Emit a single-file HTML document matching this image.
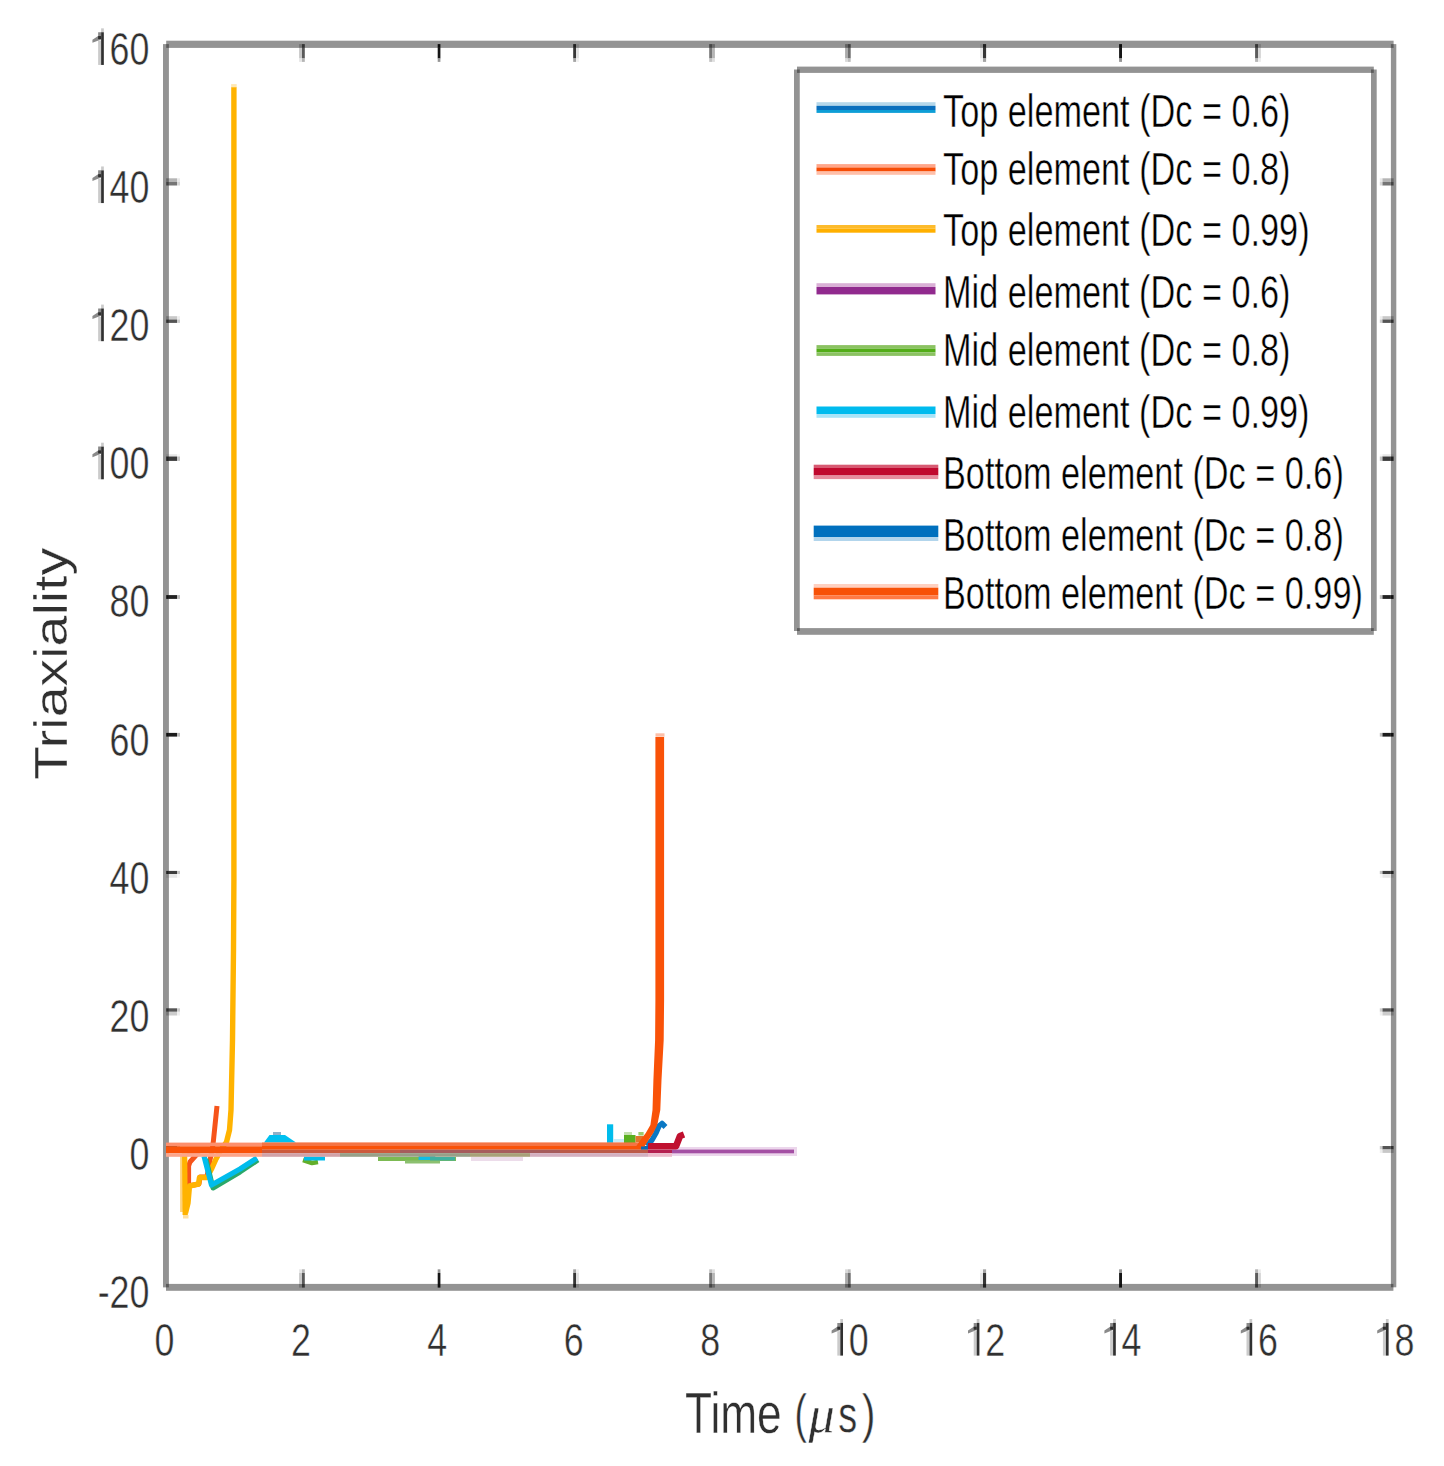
<!DOCTYPE html>
<html><head><meta charset="utf-8"><style>
html,body{margin:0;padding:0;background:#fff;}
svg{display:block;}
text{font-family:"Liberation Sans",sans-serif;fill:#303030;stroke:#fff;stroke-width:0.45px;}
.t{font-size:47px;}
.xl{font-size:57.6px;}
.yl{font-size:55.5px;}
.lg{font-size:46px;fill:#000;}
</style></head><body>
<svg width="1444" height="1466" viewBox="0 0 1444 1466">
<rect width="1444" height="1466" fill="#fff"/>
<rect x="166.2" y="40.7" width="1227.4" height="7.2" fill="#939393"/>
<rect x="166" y="1283.9" width="1227.4" height="6.9" fill="#939393"/>
<rect x="163" y="44.1" width="5.9" height="1243.3" fill="#939393"/>
<rect x="1390.9" y="44.1" width="5.4" height="1243.2" fill="#939393"/>
<rect x="166.2" y="44.1" width="2.7" height="3.8" fill="#5c5c5c"/>
<rect x="1390.9" y="44.1" width="2.7" height="3.8" fill="#5c5c5c"/>
<rect x="166" y="1283.9" width="2.9" height="3.5" fill="#5c5c5c"/>
<rect x="1390.9" y="1283.9" width="2.5" height="3.4" fill="#5c5c5c"/>
<rect x="166.2" y="178.3" width="2.7" height="3.7" fill="#686868"/>
<rect x="168.9" y="178.3" width="8.1" height="3.7" fill="#b5b5b5"/>
<rect x="177" y="178.3" width="3" height="3.7" fill="#e9e9e9"/>
<rect x="1390.9" y="178.3" width="2.7" height="3.7" fill="#686868"/>
<rect x="1382.3" y="178.3" width="8.6" height="3.7" fill="#b5b5b5"/>
<rect x="1379.8" y="178.3" width="2.5" height="3.7" fill="#e9e9e9"/>
<rect x="166.2" y="182" width="2.7" height="3.5" fill="#434343"/>
<rect x="168.9" y="182" width="8.1" height="3.5" fill="#757575"/>
<rect x="177" y="182" width="3" height="3.5" fill="#d6d6d6"/>
<rect x="1390.9" y="182" width="2.7" height="3.5" fill="#434343"/>
<rect x="1382.3" y="182" width="8.6" height="3.5" fill="#757575"/>
<rect x="1379.8" y="182" width="2.5" height="3.5" fill="#d6d6d6"/>
<rect x="166.2" y="316.2" width="2.7" height="3.3" fill="#737373"/>
<rect x="168.9" y="316.2" width="8.1" height="3.3" fill="#c8c8c8"/>
<rect x="177" y="316.2" width="3" height="3.3" fill="#eeeeee"/>
<rect x="1390.9" y="316.2" width="2.7" height="3.3" fill="#737373"/>
<rect x="1382.3" y="316.2" width="8.6" height="3.3" fill="#c8c8c8"/>
<rect x="1379.8" y="316.2" width="2.5" height="3.3" fill="#eeeeee"/>
<rect x="166.2" y="319.5" width="2.7" height="3.4" fill="#303030"/>
<rect x="168.9" y="319.5" width="8.1" height="3.4" fill="#545454"/>
<rect x="177" y="319.5" width="3" height="3.4" fill="#cccccc"/>
<rect x="1390.9" y="319.5" width="2.7" height="3.4" fill="#303030"/>
<rect x="1382.3" y="319.5" width="8.6" height="3.4" fill="#545454"/>
<rect x="1379.8" y="319.5" width="2.5" height="3.4" fill="#cccccc"/>
<rect x="166.2" y="454.2" width="2.7" height="2.3" fill="#858585"/>
<rect x="168.9" y="454.2" width="8.1" height="2.3" fill="#e6e6e6"/>
<rect x="177" y="454.2" width="3" height="2.3" fill="#f8f8f8"/>
<rect x="1390.9" y="454.2" width="2.7" height="2.3" fill="#858585"/>
<rect x="1382.3" y="454.2" width="8.6" height="2.3" fill="#e6e6e6"/>
<rect x="1379.8" y="454.2" width="2.5" height="2.3" fill="#f8f8f8"/>
<rect x="166.2" y="456.5" width="2.7" height="4.4" fill="#212121"/>
<rect x="168.9" y="456.5" width="8.1" height="4.4" fill="#3a3a3a"/>
<rect x="177" y="456.5" width="3" height="4.4" fill="#c4c4c4"/>
<rect x="1390.9" y="456.5" width="2.7" height="4.4" fill="#212121"/>
<rect x="1382.3" y="456.5" width="8.6" height="4.4" fill="#3a3a3a"/>
<rect x="1379.8" y="456.5" width="2.5" height="4.4" fill="#c4c4c4"/>
<rect x="166.2" y="595.1" width="2.7" height="3.8" fill="#141414"/>
<rect x="168.9" y="595.1" width="8.1" height="3.8" fill="#222222"/>
<rect x="177" y="595.1" width="3" height="3.8" fill="#bdbdbd"/>
<rect x="1390.9" y="595.1" width="2.7" height="3.8" fill="#141414"/>
<rect x="1382.3" y="595.1" width="8.6" height="3.8" fill="#222222"/>
<rect x="1379.8" y="595.1" width="2.5" height="3.8" fill="#bdbdbd"/>
<rect x="166.2" y="732.9" width="2.7" height="3.7" fill="#101010"/>
<rect x="168.9" y="732.9" width="8.1" height="3.7" fill="#1c1c1c"/>
<rect x="177" y="732.9" width="3" height="3.7" fill="#bbbbbb"/>
<rect x="1390.9" y="732.9" width="2.7" height="3.7" fill="#101010"/>
<rect x="1382.3" y="732.9" width="8.6" height="3.7" fill="#1c1c1c"/>
<rect x="1379.8" y="732.9" width="2.5" height="3.7" fill="#bbbbbb"/>
<rect x="166.2" y="870.9" width="2.7" height="3.1" fill="#232323"/>
<rect x="168.9" y="870.9" width="8.1" height="3.1" fill="#3c3c3c"/>
<rect x="177" y="870.9" width="3" height="3.1" fill="#c4c4c4"/>
<rect x="1390.9" y="870.9" width="2.7" height="3.1" fill="#232323"/>
<rect x="1382.3" y="870.9" width="8.6" height="3.1" fill="#3c3c3c"/>
<rect x="1379.8" y="870.9" width="2.5" height="3.1" fill="#c4c4c4"/>
<rect x="166.2" y="874" width="2.7" height="3.8" fill="#858585"/>
<rect x="168.9" y="874" width="8.1" height="3.8" fill="#e6e6e6"/>
<rect x="177" y="874" width="3" height="3.8" fill="#f8f8f8"/>
<rect x="1390.9" y="874" width="2.7" height="3.8" fill="#858585"/>
<rect x="1382.3" y="874" width="8.6" height="3.8" fill="#e6e6e6"/>
<rect x="1379.8" y="874" width="2.5" height="3.8" fill="#f8f8f8"/>
<rect x="166.2" y="1008.3" width="2.7" height="3.5" fill="#313131"/>
<rect x="168.9" y="1008.3" width="8.1" height="3.5" fill="#555555"/>
<rect x="177" y="1008.3" width="3" height="3.5" fill="#cccccc"/>
<rect x="1390.9" y="1008.3" width="2.7" height="3.5" fill="#313131"/>
<rect x="1382.3" y="1008.3" width="8.6" height="3.5" fill="#555555"/>
<rect x="1379.8" y="1008.3" width="2.5" height="3.5" fill="#cccccc"/>
<rect x="166.2" y="1011.8" width="2.7" height="3.7" fill="#767676"/>
<rect x="168.9" y="1011.8" width="8.1" height="3.7" fill="#cccccc"/>
<rect x="177" y="1011.8" width="3" height="3.7" fill="#f0f0f0"/>
<rect x="1390.9" y="1011.8" width="2.7" height="3.7" fill="#767676"/>
<rect x="1382.3" y="1011.8" width="8.6" height="3.7" fill="#cccccc"/>
<rect x="1379.8" y="1011.8" width="2.5" height="3.7" fill="#f0f0f0"/>
<rect x="166.2" y="1146" width="2.7" height="3.5" fill="#313131"/>
<rect x="168.9" y="1146" width="8.1" height="3.5" fill="#555555"/>
<rect x="177" y="1146" width="3" height="3.5" fill="#cccccc"/>
<rect x="1390.9" y="1146" width="2.7" height="3.5" fill="#313131"/>
<rect x="1382.3" y="1146" width="8.6" height="3.5" fill="#555555"/>
<rect x="1379.8" y="1146" width="2.5" height="3.5" fill="#cccccc"/>
<rect x="166.2" y="1149.5" width="2.7" height="3.4" fill="#737373"/>
<rect x="168.9" y="1149.5" width="8.1" height="3.4" fill="#c8c8c8"/>
<rect x="177" y="1149.5" width="3" height="3.4" fill="#eeeeee"/>
<rect x="1390.9" y="1149.5" width="2.7" height="3.4" fill="#737373"/>
<rect x="1382.3" y="1149.5" width="8.6" height="3.4" fill="#c8c8c8"/>
<rect x="1379.8" y="1149.5" width="2.5" height="3.4" fill="#eeeeee"/>
<rect x="299.1" y="1284" width="2.90" height="3.6" fill="#737373"/>
<rect x="299.1" y="1273" width="2.90" height="11" fill="#c8c8c8"/>
<rect x="299.1" y="1269.3" width="2.90" height="3.7" fill="#e6e6e6"/>
<rect x="299.1" y="44.1" width="2.90" height="3.8" fill="#737373"/>
<rect x="299.1" y="47.9" width="2.90" height="10.6" fill="#c8c8c8"/>
<rect x="299.1" y="58.5" width="2.90" height="3.4" fill="#e6e6e6"/>
<rect x="302" y="1284" width="2.80" height="3.6" fill="#343434"/>
<rect x="302" y="1273" width="2.80" height="11" fill="#5a5a5a"/>
<rect x="302" y="1269.3" width="2.80" height="3.7" fill="#b5b5b5"/>
<rect x="302" y="44.1" width="2.80" height="3.8" fill="#343434"/>
<rect x="302" y="47.9" width="2.80" height="10.6" fill="#5a5a5a"/>
<rect x="302" y="58.5" width="2.80" height="3.4" fill="#b5b5b5"/>
<rect x="437.7" y="1284" width="2.70" height="3.6" fill="#0c0c0c"/>
<rect x="437.7" y="1273" width="2.70" height="11" fill="#151515"/>
<rect x="437.7" y="1269.3" width="2.70" height="3.7" fill="#969696"/>
<rect x="437.7" y="44.1" width="2.70" height="3.8" fill="#0c0c0c"/>
<rect x="437.7" y="47.9" width="2.70" height="10.6" fill="#151515"/>
<rect x="437.7" y="58.5" width="2.70" height="3.4" fill="#969696"/>
<rect x="573.2" y="1284" width="2.85" height="3.6" fill="#1f1f1f"/>
<rect x="573.2" y="1273" width="2.85" height="11" fill="#363636"/>
<rect x="573.2" y="1269.3" width="2.85" height="3.7" fill="#a5a5a5"/>
<rect x="573.2" y="44.1" width="2.85" height="3.8" fill="#1f1f1f"/>
<rect x="573.2" y="47.9" width="2.85" height="10.6" fill="#363636"/>
<rect x="573.2" y="58.5" width="2.85" height="3.4" fill="#a5a5a5"/>
<rect x="576.05" y="1284" width="2.85" height="3.6" fill="#818181"/>
<rect x="576.05" y="1273" width="2.85" height="11" fill="#e0e0e0"/>
<rect x="576.05" y="1269.3" width="2.85" height="3.7" fill="#f1f1f1"/>
<rect x="576.05" y="44.1" width="2.85" height="3.8" fill="#818181"/>
<rect x="576.05" y="47.9" width="2.85" height="10.6" fill="#e0e0e0"/>
<rect x="576.05" y="58.5" width="2.85" height="3.4" fill="#f1f1f1"/>
<rect x="709.2" y="1284" width="2.85" height="3.6" fill="#454545"/>
<rect x="709.2" y="1273" width="2.85" height="11" fill="#777777"/>
<rect x="709.2" y="1269.3" width="2.85" height="3.7" fill="#c2c2c2"/>
<rect x="709.2" y="44.1" width="2.85" height="3.8" fill="#454545"/>
<rect x="709.2" y="47.9" width="2.85" height="10.6" fill="#777777"/>
<rect x="709.2" y="58.5" width="2.85" height="3.4" fill="#c2c2c2"/>
<rect x="712.05" y="1284" width="2.85" height="3.6" fill="#686868"/>
<rect x="712.05" y="1273" width="2.85" height="11" fill="#b5b5b5"/>
<rect x="712.05" y="1269.3" width="2.85" height="3.7" fill="#dedede"/>
<rect x="712.05" y="44.1" width="2.85" height="3.8" fill="#686868"/>
<rect x="712.05" y="47.9" width="2.85" height="10.6" fill="#b5b5b5"/>
<rect x="712.05" y="58.5" width="2.85" height="3.4" fill="#dedede"/>
<rect x="845.1" y="1284" width="2.70" height="3.6" fill="#626262"/>
<rect x="845.1" y="1273" width="2.70" height="11" fill="#aaaaaa"/>
<rect x="845.1" y="1269.3" width="2.70" height="3.7" fill="#d9d9d9"/>
<rect x="845.1" y="44.1" width="2.70" height="3.8" fill="#626262"/>
<rect x="845.1" y="47.9" width="2.70" height="10.6" fill="#aaaaaa"/>
<rect x="845.1" y="58.5" width="2.70" height="3.4" fill="#d9d9d9"/>
<rect x="847.8" y="1284" width="2.90" height="3.6" fill="#3f3f3f"/>
<rect x="847.8" y="1273" width="2.90" height="11" fill="#6e6e6e"/>
<rect x="847.8" y="1269.3" width="2.90" height="3.7" fill="#bebebe"/>
<rect x="847.8" y="44.1" width="2.90" height="3.8" fill="#3f3f3f"/>
<rect x="847.8" y="47.9" width="2.90" height="10.6" fill="#6e6e6e"/>
<rect x="847.8" y="58.5" width="2.90" height="3.4" fill="#bebebe"/>
<rect x="980.1" y="1284" width="2.90" height="3.6" fill="#868686"/>
<rect x="980.1" y="1273" width="2.90" height="11" fill="#e8e8e8"/>
<rect x="980.1" y="1269.3" width="2.90" height="3.7" fill="#f5f5f5"/>
<rect x="980.1" y="44.1" width="2.90" height="3.8" fill="#868686"/>
<rect x="980.1" y="47.9" width="2.90" height="10.6" fill="#e8e8e8"/>
<rect x="980.1" y="58.5" width="2.90" height="3.4" fill="#f5f5f5"/>
<rect x="983" y="1284" width="3.10" height="3.6" fill="#1f1f1f"/>
<rect x="983" y="1273" width="3.10" height="11" fill="#363636"/>
<rect x="983" y="1269.3" width="3.10" height="3.7" fill="#a5a5a5"/>
<rect x="983" y="44.1" width="3.10" height="3.8" fill="#1f1f1f"/>
<rect x="983" y="47.9" width="3.10" height="10.6" fill="#363636"/>
<rect x="983" y="58.5" width="3.10" height="3.4" fill="#a5a5a5"/>
<rect x="1119.1" y="1284" width="2.90" height="3.6" fill="#0c0c0c"/>
<rect x="1119.1" y="1273" width="2.90" height="11" fill="#151515"/>
<rect x="1119.1" y="1269.3" width="2.90" height="3.7" fill="#969696"/>
<rect x="1119.1" y="44.1" width="2.90" height="3.8" fill="#0c0c0c"/>
<rect x="1119.1" y="47.9" width="2.90" height="10.6" fill="#151515"/>
<rect x="1119.1" y="58.5" width="2.90" height="3.4" fill="#969696"/>
<rect x="1255.1" y="1284" width="2.95" height="3.6" fill="#353535"/>
<rect x="1255.1" y="1273" width="2.95" height="11" fill="#5c5c5c"/>
<rect x="1255.1" y="1269.3" width="2.95" height="3.7" fill="#b6b6b6"/>
<rect x="1255.1" y="44.1" width="2.95" height="3.8" fill="#353535"/>
<rect x="1255.1" y="47.9" width="2.95" height="10.6" fill="#5c5c5c"/>
<rect x="1255.1" y="58.5" width="2.95" height="3.4" fill="#b6b6b6"/>
<rect x="1258.05" y="1284" width="2.85" height="3.6" fill="#7b7b7b"/>
<rect x="1258.05" y="1273" width="2.85" height="11" fill="#d5d5d5"/>
<rect x="1258.05" y="1269.3" width="2.85" height="3.7" fill="#ececec"/>
<rect x="1258.05" y="44.1" width="2.85" height="3.8" fill="#7b7b7b"/>
<rect x="1258.05" y="47.9" width="2.85" height="10.6" fill="#d5d5d5"/>
<rect x="1258.05" y="58.5" width="2.85" height="3.4" fill="#ececec"/>
<text class="t" x="0" y="0" transform="translate(97.68 1308.0) scale(0.763 1)">-</text>
<text class="t" x="0" y="0" transform="translate(109.62 1308.0) scale(0.763 1)">2</text>
<text class="t" x="0" y="0" transform="translate(129.56 1308.0) scale(0.763 1)">0</text>
<text class="t" x="0" y="0" transform="translate(129.56 1169.9) scale(0.763 1)">0</text>
<text class="t" x="0" y="0" transform="translate(109.62 1031.8) scale(0.763 1)">2</text>
<text class="t" x="0" y="0" transform="translate(129.56 1031.8) scale(0.763 1)">0</text>
<text class="t" x="0" y="0" transform="translate(109.62 893.7) scale(0.763 1)">4</text>
<text class="t" x="0" y="0" transform="translate(129.56 893.7) scale(0.763 1)">0</text>
<text class="t" x="0" y="0" transform="translate(109.62 755.5) scale(0.763 1)">6</text>
<text class="t" x="0" y="0" transform="translate(129.56 755.5) scale(0.763 1)">0</text>
<text class="t" x="0" y="0" transform="translate(109.62 617.4) scale(0.763 1)">8</text>
<text class="t" x="0" y="0" transform="translate(129.56 617.4) scale(0.763 1)">0</text>
<rect x="98.13" y="454.90" width="3" height="24.4" fill="#cbcbcb"/>
<rect x="101.13" y="442.70" width="2.7" height="3.9" fill="#cacaca"/>
<polygon points="101.13,446.60 101.13,453.80 92.43,457.20 92.43,454.20 98.13,450.40 98.13,446.60" fill="#8a8a8a"/>
<rect x="98.13" y="450.40" width="3" height="3" fill="#2e2e2e"/>
<rect x="101.13" y="446.60" width="2.7" height="32.7" fill="#303030"/>
<text class="t" x="0" y="0" transform="translate(109.62 479.3) scale(0.763 1)">0</text>
<text class="t" x="0" y="0" transform="translate(129.56 479.3) scale(0.763 1)">0</text>
<rect x="98.13" y="316.78" width="3" height="24.4" fill="#cbcbcb"/>
<rect x="101.13" y="304.58" width="2.7" height="3.9" fill="#cacaca"/>
<polygon points="101.13,308.48 101.13,315.68 92.43,319.08 92.43,316.08 98.13,312.28 98.13,308.48" fill="#8a8a8a"/>
<rect x="98.13" y="312.28" width="3" height="3" fill="#2e2e2e"/>
<rect x="101.13" y="308.48" width="2.7" height="32.7" fill="#303030"/>
<text class="t" x="0" y="0" transform="translate(109.62 341.2) scale(0.763 1)">2</text>
<text class="t" x="0" y="0" transform="translate(129.56 341.2) scale(0.763 1)">0</text>
<rect x="98.13" y="178.66" width="3" height="24.4" fill="#cbcbcb"/>
<rect x="101.13" y="166.46" width="2.7" height="3.9" fill="#cacaca"/>
<polygon points="101.13,170.36 101.13,177.56 92.43,180.96 92.43,177.96 98.13,174.16 98.13,170.36" fill="#8a8a8a"/>
<rect x="98.13" y="174.16" width="3" height="3" fill="#2e2e2e"/>
<rect x="101.13" y="170.36" width="2.7" height="32.7" fill="#303030"/>
<text class="t" x="0" y="0" transform="translate(109.62 203.1) scale(0.763 1)">4</text>
<text class="t" x="0" y="0" transform="translate(129.56 203.1) scale(0.763 1)">0</text>
<rect x="98.13" y="40.54" width="3" height="24.4" fill="#cbcbcb"/>
<rect x="101.13" y="28.34" width="2.7" height="3.9" fill="#cacaca"/>
<polygon points="101.13,32.24 101.13,39.44 92.43,42.84 92.43,39.84 98.13,36.04 98.13,32.24" fill="#8a8a8a"/>
<rect x="98.13" y="36.04" width="3" height="3" fill="#2e2e2e"/>
<rect x="101.13" y="32.24" width="2.7" height="32.7" fill="#303030"/>
<text class="t" x="0" y="0" transform="translate(109.62 64.9) scale(0.763 1)">6</text>
<text class="t" x="0" y="0" transform="translate(129.56 64.9) scale(0.763 1)">0</text>
<text class="t" x="0" y="0" transform="translate(154.53 1355.6) scale(0.763 1)">0</text>
<text class="t" x="0" y="0" transform="translate(290.93 1355.6) scale(0.763 1)">2</text>
<text class="t" x="0" y="0" transform="translate(427.33 1355.6) scale(0.763 1)">4</text>
<text class="t" x="0" y="0" transform="translate(563.73 1355.6) scale(0.763 1)">6</text>
<text class="t" x="0" y="0" transform="translate(700.13 1355.6) scale(0.763 1)">8</text>
<rect x="837.31" y="1331.20" width="3" height="24.4" fill="#cbcbcb"/>
<rect x="840.31" y="1319.00" width="2.7" height="3.9" fill="#cacaca"/>
<polygon points="840.31,1322.90 840.31,1330.10 831.61,1333.50 831.61,1330.50 837.31,1326.70 837.31,1322.90" fill="#8a8a8a"/>
<rect x="837.31" y="1326.70" width="3" height="3" fill="#2e2e2e"/>
<rect x="840.31" y="1322.90" width="2.7" height="32.7" fill="#303030"/>
<text class="t" x="0" y="0" transform="translate(848.80 1355.6) scale(0.763 1)">0</text>
<rect x="973.71" y="1331.20" width="3" height="24.4" fill="#cbcbcb"/>
<rect x="976.71" y="1319.00" width="2.7" height="3.9" fill="#cacaca"/>
<polygon points="976.71,1322.90 976.71,1330.10 968.01,1333.50 968.01,1330.50 973.71,1326.70 973.71,1322.90" fill="#8a8a8a"/>
<rect x="973.71" y="1326.70" width="3" height="3" fill="#2e2e2e"/>
<rect x="976.71" y="1322.90" width="2.7" height="32.7" fill="#303030"/>
<text class="t" x="0" y="0" transform="translate(985.20 1355.6) scale(0.763 1)">2</text>
<rect x="1110.11" y="1331.20" width="3" height="24.4" fill="#cbcbcb"/>
<rect x="1113.11" y="1319.00" width="2.7" height="3.9" fill="#cacaca"/>
<polygon points="1113.11,1322.90 1113.11,1330.10 1104.41,1333.50 1104.41,1330.50 1110.11,1326.70 1110.11,1322.90" fill="#8a8a8a"/>
<rect x="1110.11" y="1326.70" width="3" height="3" fill="#2e2e2e"/>
<rect x="1113.11" y="1322.90" width="2.7" height="32.7" fill="#303030"/>
<text class="t" x="0" y="0" transform="translate(1121.60 1355.6) scale(0.763 1)">4</text>
<rect x="1246.51" y="1331.20" width="3" height="24.4" fill="#cbcbcb"/>
<rect x="1249.51" y="1319.00" width="2.7" height="3.9" fill="#cacaca"/>
<polygon points="1249.51,1322.90 1249.51,1330.10 1240.81,1333.50 1240.81,1330.50 1246.51,1326.70 1246.51,1322.90" fill="#8a8a8a"/>
<rect x="1246.51" y="1326.70" width="3" height="3" fill="#2e2e2e"/>
<rect x="1249.51" y="1322.90" width="2.7" height="32.7" fill="#303030"/>
<text class="t" x="0" y="0" transform="translate(1258.00 1355.6) scale(0.763 1)">6</text>
<rect x="1382.91" y="1331.20" width="3" height="24.4" fill="#cbcbcb"/>
<rect x="1385.91" y="1319.00" width="2.7" height="3.9" fill="#cacaca"/>
<polygon points="1385.91,1322.90 1385.91,1330.10 1377.21,1333.50 1377.21,1330.50 1382.91,1326.70 1382.91,1322.90" fill="#8a8a8a"/>
<rect x="1382.91" y="1326.70" width="3" height="3" fill="#2e2e2e"/>
<rect x="1385.91" y="1322.90" width="2.7" height="32.7" fill="#303030"/>
<text class="t" x="0" y="0" transform="translate(1394.40 1355.6) scale(0.763 1)">8</text>
<text x="0" y="0" style="font-size:57.56px;" transform="translate(685.03 1432.50) scale(0.768 1)">Time</text>
<text x="0" y="0" style="font-size:53.93px;" transform="translate(794.58 1431.90) scale(0.693 1)">(</text>
<text x="0" y="0" style="font-size:52.94px;font-family:Liberation Serif;font-style:italic;" transform="translate(808.45 1431.70) scale(0.989 1)">&#956;</text>
<text x="0" y="0" style="font-size:52.33px;" transform="translate(838.24 1431.80) scale(0.723 1)">s</text>
<text x="0" y="0" style="font-size:53.93px;" transform="translate(861.75 1431.90) scale(0.763 1)">)</text>
<text class="yl" x="0" y="0" transform="translate(67 780) rotate(-90) scale(1 0.82)">Triaxiality</text>
<polyline points="647.0,1146.0 652.0,1140.0 656.0,1133.0 659.0,1126.0 662.0,1123.5 665.5,1127.0" fill="none" stroke="#0a78c4" stroke-width="5.5" stroke-linejoin="round" stroke-linecap="butt"/>
<polyline points="178.0,1150.0 198.0,1153.0 190.0,1162.0 188.6,1166.0 188.6,1186.0 199.0,1184.0 200.0,1177.0 207.0,1177.0 210.0,1160.0 212.5,1148.0 213.5,1140.0 217.0,1106.0" fill="none" stroke="#f6541a" stroke-width="5" stroke-linejoin="round" stroke-linecap="butt"/>
<rect x="180.1" y="1156" width="3.2" height="56" fill="#ffd27a"/>
<polyline points="184.6,1150.0 185.2,1215.0" fill="none" stroke="#ffb300" stroke-width="5.2" stroke-linejoin="round" stroke-linecap="butt"/>
<polyline points="185.5,1213.0 188.0,1203.0 189.5,1186.0 198.5,1184.0 199.5,1177.5 207.0,1177.5 212.0,1168.0 216.0,1159.0 222.0,1148.0 226.5,1142.0 229.5,1130.0 231.0,1110.0 232.5,1040.0 233.5,950.0 233.9,880.0 233.9,87.0" fill="none" stroke="#ffb300" stroke-width="5.4" stroke-linejoin="round" stroke-linecap="butt"/>
<rect x="183" y="1215" width="5.5" height="3.5" fill="#ffe0a0"/>
<rect x="231.1" y="84.1" width="5.6" height="3.2" fill="#ffe8b4"/>
<rect x="672" y="1147" width="125" height="9" fill="#ecd6ec"/>
<rect x="672" y="1149.6" width="122" height="3.7" fill="#a450a4"/>
<polyline points="206.0,1159.0 213.0,1188.0 240.0,1172.0 258.0,1160.0" fill="none" stroke="#2aa86a" stroke-width="5" stroke-linejoin="round" />
<polyline points="303.0,1160.0 312.0,1163.0 318.0,1162.0" fill="none" stroke="#62ae2a" stroke-width="4.5" stroke-linejoin="round" />
<polyline points="378.0,1159.0 456.0,1159.0" fill="none" stroke="#7cba52" stroke-width="4" stroke-linejoin="round" />
<polyline points="405.0,1162.0 440.0,1162.0" fill="none" stroke="#8cc070" stroke-width="3" stroke-linejoin="round" />
<rect x="418.6" y="1156" width="16.7" height="4" fill="#10bce6"/>
<rect x="471" y="1157" width="52" height="4" fill="#ecdcea"/>
<rect x="430" y="1157" width="25" height="3.5" fill="#40b0a0"/>
<rect x="624" y="1135" width="11.5" height="8" fill="#5ab020"/>
<rect x="624" y="1132" width="8" height="3" fill="#c4e0b0"/>
<rect x="638.4" y="1132" width="5.2" height="3.5" fill="#9ccc70"/>
<rect x="635.5" y="1136" width="8" height="6.4" fill="#e0762c"/>
<polyline points="204.0,1156.0 211.5,1185.0 240.0,1169.0 257.0,1158.0" fill="none" stroke="#00bcec" stroke-width="5.2" stroke-linejoin="round" />
<polygon points="264,1142.4 269.5,1135 285,1135 296,1142.4" fill="#00c0f0"/>
<rect x="273" y="1132" width="8" height="3" fill="#90b0c8"/>
<polyline points="304.0,1158.5 325.0,1158.5" fill="none" stroke="#00bcec" stroke-width="4" stroke-linejoin="round" />
<rect x="607" y="1124.3" width="6.2" height="18.5" fill="#00bcec"/>
<rect x="613" y="1139" width="11" height="3.4" fill="#c8ecf8"/>
<polyline points="648.0,1146.3 676.0,1146.3 680.0,1136.0 684.0,1134.5" fill="none" stroke="#c0102f" stroke-width="6.6" stroke-linejoin="round" stroke-linecap="butt"/>
<rect x="166" y="1142.6" width="96" height="3.7" fill="#fd8f6c"/>
<rect x="166" y="1146.3" width="96" height="6.8" fill="#f95208"/>
<rect x="166" y="1153.1" width="96" height="3.7" fill="#fca58a"/>
<rect x="262" y="1142.4" width="379" height="3.7" fill="#f57444"/>
<rect x="262" y="1146" width="379" height="3.7" fill="#f95208"/>
<rect x="641" y="1146" width="7" height="3.8" fill="#0a68b4"/>
<rect x="262" y="1149.6" width="138" height="3.5" fill="#cc5a3c"/>
<rect x="400" y="1149.6" width="160" height="3.5" fill="#a65c5c"/>
<rect x="560" y="1149.6" width="88" height="3.5" fill="#bc5a48"/>
<rect x="262" y="1153.1" width="78" height="3.7" fill="#d2a2a8"/>
<rect x="340" y="1153.1" width="130" height="3.7" fill="#98a088"/>
<rect x="470" y="1153.1" width="60" height="3.7" fill="#a8a078"/>
<rect x="530" y="1153.1" width="118" height="3.7" fill="#d4b0c0"/>
<rect x="648" y="1149.6" width="24" height="3.6" fill="#b42050"/>
<rect x="648" y="1153.2" width="24" height="3.6" fill="#ecbccc"/>
<polygon points="655.4,737 655.4,1000 655.1,1040 653.4,1080 652.5,1110 650.4,1125 645.8,1133 641.2,1139 636,1146.5 644.5,1146.5 648.6,1140 653.3,1133 657.3,1125 660.3,1110 661.5,1080 663.7,1040 664.1,1000 664.1,737" fill="#f95208"/>
<rect x="655.5" y="733.3" width="9" height="3.4" fill="#fdbfa8"/>
<rect x="796.9" y="69.7" width="577" height="561.3" fill="#fff"/>
<rect x="797" y="66.6" width="576.8" height="6.3" fill="#939393"/>
<rect x="797" y="628.1" width="576.8" height="6.7" fill="#939393"/>
<rect x="794" y="69.5" width="5.75" height="561.5" fill="#939393"/>
<rect x="1371" y="69.5" width="5.7" height="561.5" fill="#939393"/>
<rect x="797" y="69.5" width="2.75" height="3.4" fill="#5c5c5c"/>
<rect x="1371" y="69.5" width="2.8" height="3.4" fill="#5c5c5c"/>
<rect x="797" y="628.1" width="2.75" height="2.9" fill="#5c5c5c"/>
<rect x="1371" y="628.1" width="2.8" height="2.9" fill="#5c5c5c"/>
<rect x="816.5" y="102.2" width="119.0" height="3.6" fill="#b5d7ea"/>
<rect x="816.5" y="105.8" width="119.0" height="4.2" fill="#0a6fbd"/>
<rect x="816.5" y="110" width="119.0" height="2.9" fill="#0d9ed6"/>
<text class="lg" x="0" y="0" transform="translate(943 127.1) scale(0.745 1)">Top element (Dc = 0.6)</text>
<rect x="816.5" y="164.1" width="119.0" height="3.4" fill="#ffa68a"/>
<rect x="816.5" y="167.5" width="119.0" height="4.0" fill="#f64c05"/>
<rect x="816.5" y="171.5" width="119.0" height="3.3" fill="#ffbfa9"/>
<text class="lg" x="0" y="0" transform="translate(943 185.2) scale(0.745 1)">Top element (Dc = 0.8)</text>
<rect x="816.5" y="225" width="119.0" height="3.5" fill="#fdbb2c"/>
<rect x="816.5" y="228.5" width="119.0" height="4.2" fill="#ffb000"/>
<text class="lg" x="0" y="0" transform="translate(943 246.3) scale(0.745 1)">Top element (Dc = 0.99)</text>
<rect x="816.5" y="283.2" width="119.0" height="3.8" fill="#dab0d6"/>
<rect x="816.5" y="287" width="119.0" height="7.4" fill="#912a8e"/>
<text class="lg" x="0" y="0" transform="translate(943 307.9) scale(0.745 1)">Mid element (Dc = 0.6)</text>
<rect x="816.5" y="345.1" width="119.0" height="3.5" fill="#8bc262"/>
<rect x="816.5" y="348.6" width="119.0" height="3.7" fill="#52ad17"/>
<rect x="816.5" y="352.3" width="119.0" height="3.6" fill="#8bc262"/>
<text class="lg" x="0" y="0" transform="translate(943 366.3) scale(0.745 1)">Mid element (Dc = 0.8)</text>
<rect x="816.5" y="406.5" width="119.0" height="7.5" fill="#00bbee"/>
<rect x="816.5" y="414" width="119.0" height="3.8" fill="#a8e4f8"/>
<text class="lg" x="0" y="0" transform="translate(943 427.6) scale(0.745 1)">Mid element (Dc = 0.99)</text>
<rect x="813.7" y="464.7" width="124.6" height="3.3" fill="#d75a72"/>
<rect x="813.7" y="468" width="124.6" height="7.5" fill="#c0082e"/>
<rect x="813.7" y="475.5" width="124.6" height="3.6" fill="#e68c9e"/>
<text class="lg" x="0" y="0" transform="translate(943 488.9) scale(0.745 1)">Bottom element (Dc = 0.6)</text>
<rect x="813.7" y="525.6" width="124.6" height="11.4" fill="#0070be"/>
<rect x="813.7" y="537" width="124.6" height="4.0" fill="#b2d5ec"/>
<text class="lg" x="0" y="0" transform="translate(943 551.3) scale(0.745 1)">Bottom element (Dc = 0.8)</text>
<rect x="813.7" y="584" width="124.6" height="3.7" fill="#ffd0c0"/>
<rect x="813.7" y="587.7" width="124.6" height="7.8" fill="#f75107"/>
<rect x="813.7" y="595.5" width="124.6" height="3.8" fill="#ff7a45"/>
<text class="lg" x="0" y="0" transform="translate(943 608.6) scale(0.745 1)">Bottom element (Dc = 0.99)</text>
</svg>
</body></html>
